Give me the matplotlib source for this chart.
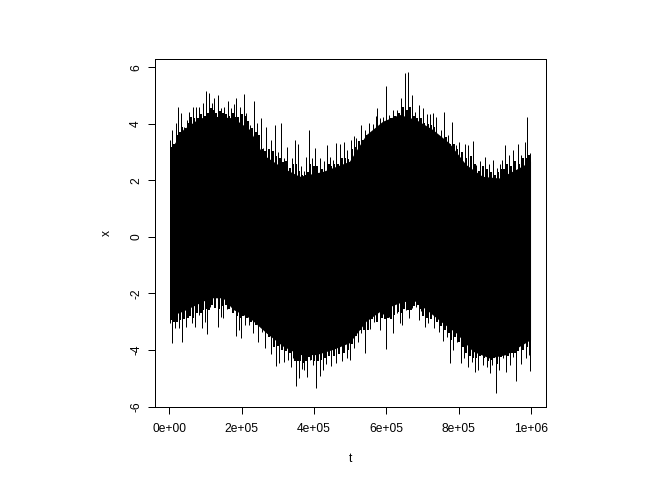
import matplotlib
matplotlib.use('Agg')
import matplotlib.pyplot as plt

plt.rcParams['font.family'] = ['Liberation Sans', 'DejaVu Sans']

# solid body of the trace
core_t_hi = [2000, 39000, 85000, 131000, 177000, 223000, 260000, 315000, 361000, 425000, 499000,
             545000, 591000, 637000, 683000, 729000, 775000, 821000, 867000, 913000, 959000, 1000000]
core_hi = [3.02, 3.79, 4.20, 4.25, 4.20, 3.79, 2.90, 2.43, 2.13, 2.30, 2.66,
           3.60, 4.08, 4.32, 4.14, 3.79, 3.31, 2.55, 2.13, 2.07, 2.37, 2.66]
core_t_lo = [2000, 39000, 113000, 149000, 177000, 223000, 269000, 315000, 361000, 407000, 453000, 499000,
             545000, 591000, 637000, 674000, 711000, 757000, 794000, 840000, 886000, 932000, 1000000]
core_lo = [-2.82, -2.64, -2.17, -2.17, -2.58, -2.88, -3.41, -3.88, -4.18, -4.18, -4.00, -3.76,
           -3.00, -2.58, -2.35, -2.23, -2.58, -3.06, -3.41, -4.06, -4.30, -4.18, -3.65]

# peaks above the body
peak_t = [2000, 8000, 18000, 23000, 32000, 41000, 48000, 55000, 64000, 73000, 82000, 92000, 102000, 110000,
          117000, 124000, 135000, 143000, 151000, 162000, 170000, 179000, 185000, 195000, 206000, 212000,
          223000, 234000, 243000, 252000, 260000, 268000, 281000, 291000, 301000, 309000, 318000, 326000,
          338000, 347000, 355000, 363000, 372000, 379000, 385000, 395000, 403000, 416000, 427000, 436000,
          444000, 453000, 460000, 471000, 482000, 491000, 502000, 509000, 517000, 529000, 540000, 552000,
          562000, 571000, 575000, 582000, 591000, 599000, 608000, 619000, 628000, 641000, 651000, 661000,
          670000, 679000, 691000, 700000, 711000, 720000, 729000, 738000, 750000, 760000, 771000, 782000,
          792000, 801000, 817000, 826000, 839000, 849000, 860000, 872000, 884000, 896000, 906000, 913000,
          921000, 928000, 939000, 951000, 964000, 973000, 983000, 990000, 997000]
peak_x = [3.43, 3.79, 4.02, 4.61, 4.38, 3.90, 4.14, 4.43, 4.59, 4.61, 4.59, 4.73, 5.17, 5.09,
          4.73, 4.93, 5.02, 4.55, 4.61, 4.81, 4.55, 4.69, 4.93, 4.61, 5.05, 4.38,
          3.96, 4.82, 4.02, 4.20, 3.14, 3.88, 3.43, 3.96, 3.02, 4.02, 2.78, 3.20,
          2.78, 3.43, 3.28, 2.52, 2.33, 2.84, 3.79, 2.78, 3.14, 2.78, 2.69, 3.26,
          2.84, 2.72, 3.31, 3.28, 3.35, 3.08, 3.43, 3.58, 3.49, 3.96, 3.79, 4.04,
          3.99, 4.29, 4.55, 4.20, 4.26, 5.35, 4.32, 4.49, 4.49, 4.93, 5.81, 5.85,
          5.02, 4.43, 4.67, 4.55, 4.34, 4.34, 4.38, 4.23, 3.79, 4.43, 3.61, 4.08,
          3.25, 3.35, 3.28, 3.25, 3.40, 2.55, 2.69, 2.84, 2.60, 2.72, 2.45, 2.60,
          2.72, 3.25, 2.90, 3.08, 3.28, 2.90, 3.37, 4.25, 2.96]

# shorter teeth between the peaks
tooth_hi_t = [5000, 13000, 21000, 28000, 36000, 44000, 52000, 60000, 68000, 78000, 87000, 97000, 106000, 114000,
              121000, 130000, 139000, 147000, 156000, 166000, 175000, 182000, 190000, 200000, 209000, 217000,
              228000, 238000, 247000, 256000, 264000, 274000, 286000, 296000, 305000, 314000, 322000, 332000,
              342000, 351000, 359000, 367000, 375000, 382000, 390000, 399000, 409000, 421000, 431000, 440000,
              448000, 456000, 465000, 476000, 486000, 495000, 505000, 513000, 523000, 534000, 546000, 557000,
              566000, 578000, 586000, 595000, 603000, 613000, 623000, 634000, 646000, 656000, 665000, 675000,
              685000, 695000, 705000, 715000, 724000, 733000, 744000, 755000, 765000, 776000, 787000, 796000,
              809000, 821000, 833000, 844000, 855000, 866000, 878000, 890000, 901000, 910000, 917000, 925000,
              934000, 945000, 957000, 968000, 978000, 987000, 994000]
tooth_hi = [3.2, 3.3, 3.6, 3.7, 3.9, 3.85, 4.05, 4.25, 4.2, 4.2, 4.35, 4.3, 4.4, 4.55,
            4.5, 4.4, 4.45, 4.4, 4.35, 4.3, 4.4, 4.25, 4.25, 4.35, 4.3, 4.1,
            3.85, 3.7, 3.6, 3.1, 3.05, 3.1, 3.05, 2.85, 2.8, 2.65, 2.7, 2.45,
            2.6, 2.6, 2.35, 2.2, 2.2, 2.3, 2.6, 2.5, 2.5, 2.4, 2.3, 2.6,
            2.5, 2.6, 2.6, 2.8, 2.8, 2.75, 3.1, 3.2, 3.4, 3.45, 3.6, 3.6,
            3.7, 3.9, 3.95, 4.0, 4.1, 4.2, 4.3, 4.4, 4.6, 4.5, 4.6, 4.3,
            4.2, 4.2, 4.05, 4.0, 3.95, 3.9, 3.55, 3.5, 3.55, 3.3, 3.3, 3.1,
            3.0, 2.8, 2.85, 2.6, 2.35, 2.5, 2.4, 2.3, 2.2, 2.3, 2.4, 2.4,
            2.6, 2.5, 2.7, 2.6, 2.8, 2.8, 2.9]

# troughs below the body
trough_t = [2000, 8000, 16000, 25000, 36000, 45000, 62000, 71000, 82000, 91000, 97000, 105000, 113000, 122000,
            133000, 142000, 149000, 160000, 172000, 183000, 191000, 199000, 209000, 219000, 232000, 246000,
            255000, 264000, 271000, 281000, 295000, 304000, 317000, 329000, 337000, 343000, 351000, 358000,
            366000, 373000, 381000, 389000, 396000, 404000, 416000, 425000, 434000, 448000, 461000, 476000,
            490000, 499000, 510000, 522000, 531000, 542000, 554000, 565000, 582000, 591000, 599000, 608000,
            617000, 628000, 637000, 644000, 654000, 663000, 672000, 681000, 690000, 697000, 706000, 715000,
            731000, 746000, 757000, 768000, 775000, 784000, 796000, 807000, 814000, 827000, 836000, 844000,
            854000, 866000, 877000, 886000, 893000, 902000, 911000, 923000, 932000, 941000, 950000, 959000,
            971000, 985000, 994000, 998000]
trough_x = [-3.06, -3.74, -3.23, -3.23, -3.71, -3.17, -3.06, -3.20, -2.76, -3.23, -3.00, -3.43, -2.47, -2.47,
            -3.17, -2.82, -2.88, -2.56, -2.64, -3.50, -3.29, -3.59, -3.11, -3.11, -3.41, -3.70,
            -3.35, -3.92, -3.41, -4.15, -4.57, -4.47, -4.44, -4.35, -4.61, -4.29, -5.27, -5.00,
            -4.68, -4.71, -4.97, -4.35, -4.53, -5.33, -4.92, -4.71, -4.50, -4.57, -4.45, -4.38,
            -4.30, -4.35, -3.94, -3.70, -3.41, -4.12, -3.27, -3.00, -3.29, -2.73, -3.96, -2.82,
            -3.41, -2.70, -3.06, -3.11, -2.58, -2.88, -2.53, -2.47, -2.94, -2.61, -3.20, -3.03,
            -3.23, -3.35, -3.67, -3.53, -4.47, -4.00, -3.70, -4.47, -4.29, -4.61, -4.41, -4.77,
            -4.71, -4.53, -4.61, -4.83, -4.53, -5.53, -4.71, -4.29, -4.77, -4.53, -4.24, -5.09,
            -4.50, -4.29, -4.18, -4.73]

tooth_lo_t = [5000, 12000, 20000, 30000, 40000, 50000, 57000, 66000, 76000, 86000, 94000, 101000, 109000, 118000,
              127000, 137000, 146000, 155000, 166000, 177000, 187000, 195000, 204000, 214000, 225000, 239000,
              250000, 259000, 267000, 276000, 288000, 299000, 310000, 323000, 333000, 340000, 347000, 355000,
              362000, 370000, 377000, 385000, 392000, 400000, 410000, 420000, 430000, 441000, 455000, 468000,
              483000, 495000, 505000, 516000, 527000, 537000, 548000, 560000, 574000, 587000, 595000, 604000,
              613000, 622000, 633000, 641000, 649000, 659000, 668000, 677000, 686000, 694000, 702000, 711000,
              723000, 739000, 752000, 763000, 772000, 780000, 790000, 802000, 811000, 821000, 832000, 840000,
              849000, 860000, 871000, 882000, 890000, 898000, 907000, 917000, 928000, 937000, 946000, 955000,
              965000, 978000, 990000]
tooth_lo = [-2.95, -3.0, -3.0, -2.95, -2.9, -2.85, -2.8, -2.85, -2.7, -2.7, -2.6, -2.55, -2.6, -2.4,
            -2.5, -2.55, -2.45, -2.4, -2.55, -2.7, -2.8, -2.85, -2.8, -2.85, -3.0, -3.1,
            -3.1, -3.2, -3.35, -3.55, -3.9, -3.85, -4.0, -4.05, -4.1, -4.0, -4.4, -4.4,
            -4.4, -4.45, -4.4, -4.25, -4.35, -4.4, -4.4, -4.35, -4.3, -4.2, -4.2, -4.15,
            -4.1, -4.0, -3.8, -3.5, -3.3, -3.3, -3.3, -2.9, -3.0, -2.85, -2.9, -2.85,
            -2.9, -2.75, -2.65, -2.7, -2.55, -2.6, -2.6, -2.45, -2.4, -2.55, -2.8, -2.85,
            -2.9, -3.0, -3.15, -3.3, -3.4, -3.65, -3.55, -3.7, -3.9, -4.1, -4.2, -4.3,
            -4.3, -4.2, -4.3, -4.4, -4.35, -4.3, -4.5, -4.25, -4.1, -4.2, -4.1, -4.1,
            -4.05, -4.0, -3.9]

x_ticks = [0, 200000, 400000, 600000, 800000, 1000000]
x_labels = ['0e+00', '2e+05', '4e+05', '6e+05', '8e+05', '1e+06']
y_ticks = [-6, -4, -2, 0, 2, 4, 6]
y_labels = ['-6', '-4', '-2', '0', '2', '4', '6']

fig = plt.figure(figsize=(672 / 72, 480 / 72), dpi=72)
ax = fig.add_axes([155 / 672, 1 - 406.5 / 480, 390.5 / 672, 347.5 / 480])

# body: one polygon between upper and lower edge
ax.fill(core_t_hi + core_t_lo[::-1], core_hi + core_lo[::-1], color='k', lw=0)
ax.vlines(peak_t, 0, peak_x, color='k', lw=1.0)
ax.vlines(trough_t, trough_x, 0, color='k', lw=1.0)
ax.vlines(tooth_hi_t, 0, tooth_hi, color='k', lw=2.0)
ax.vlines(tooth_lo_t, tooth_lo, 0, color='k', lw=2.0)

ax.set_xlim(-40000, 1040000)
ax.set_ylim(-6.0, 6.3)
ax.set_xticks(x_ticks)
ax.set_xticklabels(x_labels)
ax.set_yticks(y_ticks)
ax.set_yticklabels(y_labels, rotation=90, va='center')
ax.tick_params(length=7, width=1.0, labelsize=12)
ax.tick_params(axis='x', pad=9)
ax.tick_params(axis='y', pad=6)
ax.set_xlabel('t', fontsize=12, labelpad=18)
ax.set_ylabel('x', fontsize=12, labelpad=17)
for s in ax.spines.values():
    s.set_linewidth(1.0)

fig.savefig('out.png', dpi=72)
